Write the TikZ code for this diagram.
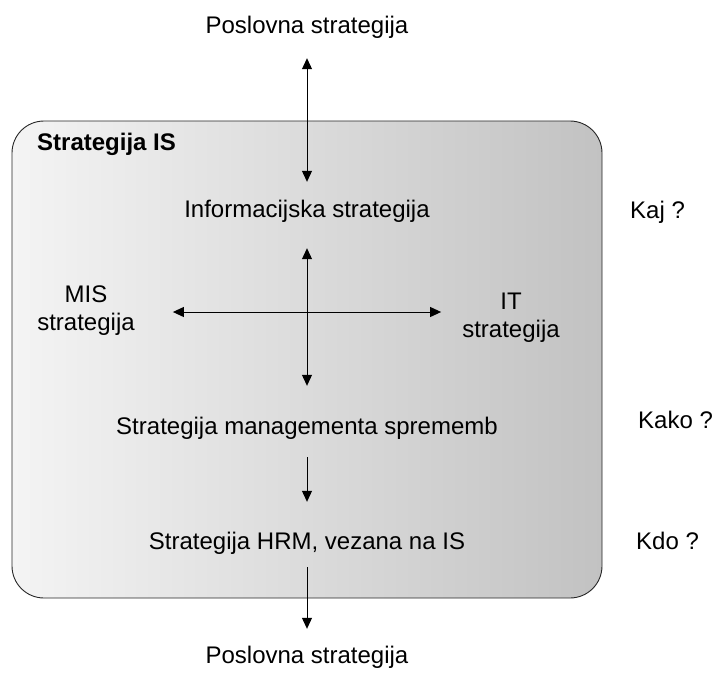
\documentclass[tikz,border=0pt]{standalone}
\usepackage{fontspec}
\setmainfont{Liberation Sans}
\usetikzlibrary{arrows.meta}
\definecolor{shadeL}{HTML}{F4F4F4}
\definecolor{shadeM}{HTML}{DFDFDF}
\definecolor{shadeR}{HTML}{C2C2C2}
\tikzset{headtip/.tip={Triangle[length=11pt,width=10pt]}}
\begin{document}
\begin{tikzpicture}[x=1pt,y=-1pt,
  every node/.style={font=\fontsize{24}{28}\selectfont},
  lbl/.style={inner sep=0pt, anchor=base, text height=17.5pt, text depth=5pt},
  side/.style={inner sep=0pt, anchor=base west},
  twoline/.style={inner sep=0pt, align=center, anchor=center},
  link/.style={line width=1pt, draw=black}
]
\useasboundingbox (0,0) rectangle (715,673);

% shaded IS frame
\node[draw=black!85, line width=0.9pt, rounded corners=32pt,
      left color=shadeL, middle color=shadeM, right color=shadeR,
      minimum width=590pt, minimum height=477pt, inner sep=0pt]
      (isbox) at (307,359.5) {};
\node[side, font=\fontsize{24}{28}\selectfont\bfseries] (istitle) at (37,150) {Strategija IS};

% strategy levels
\node[lbl] (ps1)  at (307,33)  {Poslovna strategija};
\node[lbl] (info) at (307,217) {Informacijska strategija};
\node[lbl] (mgmt) at (307,434) {Strategija managementa sprememb};
\node[lbl] (hrm)  at (307,549) {Strategija HRM, vezana na IS};
\node[lbl] (ps2)  at (307,663) {Poslovna strategija};

\node[twoline] (mis) at (86,311)  {MIS\\strategija};
\node[twoline] (it)  at (511,318) {IT\\strategija};

% questions on the right
\node[side] (kaj)  at (630,218) {Kaj ?};
\node[side] (kako) at (638,428) {Kako ?};
\node[side] (kdo)  at (636,549) {Kdo ?};

\coordinate (hub) at (307,312);

% connectors
\draw[link, headtip-headtip, shorten <=20pt, shorten >=17.5pt] (ps1.south) -- (info.north);
\draw[link, headtip-headtip, shorten <=26pt, shorten >=30.5pt] (info.south) -- (mgmt.north);
\draw[link, headtip-headtip, shorten <=38pt, shorten >=21pt] (mis.east |- hub) -- (it.west |- hub);
\draw[link, -headtip, shorten <=18pt, shorten >=29.5pt] (mgmt.south) -- (hrm.north);
\draw[link, -headtip, shorten <=13pt, shorten >=16.5pt] (hrm.south) -- (ps2.north);
\end{tikzpicture}
\end{document}
